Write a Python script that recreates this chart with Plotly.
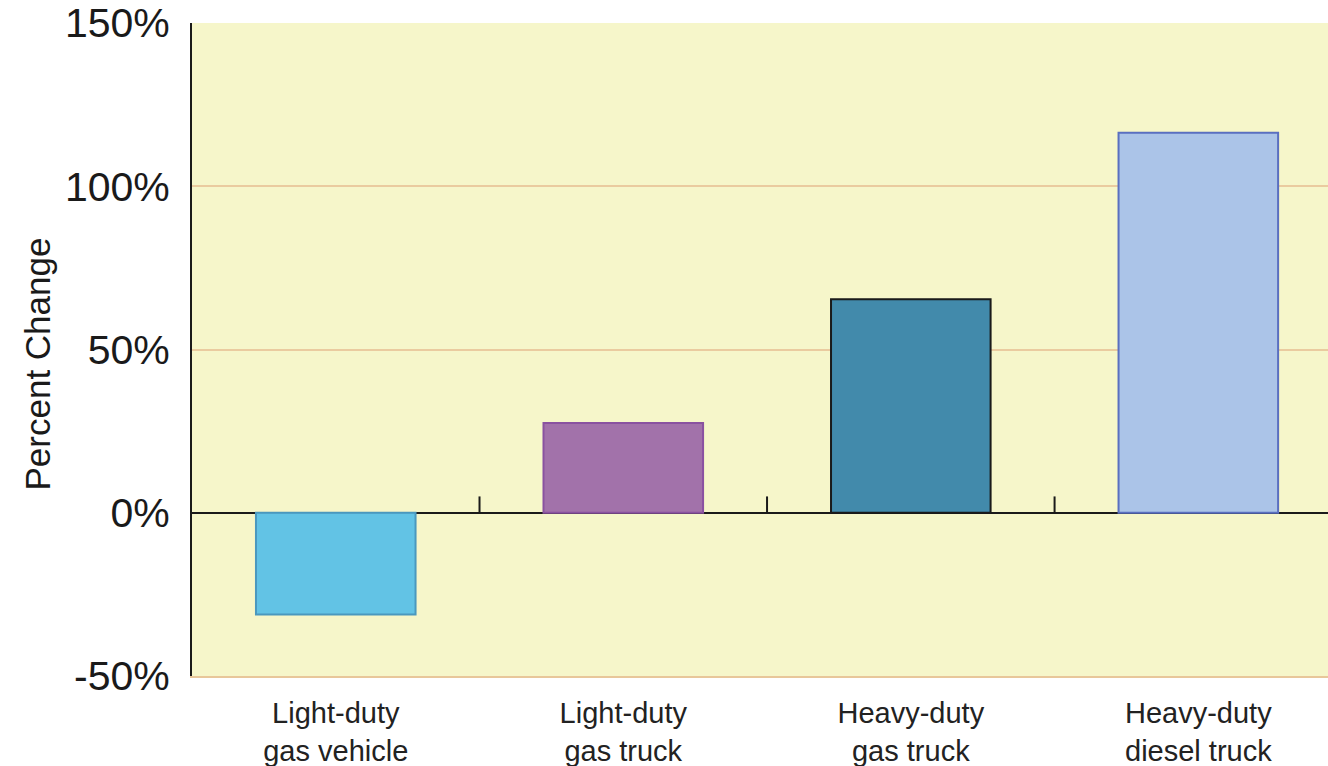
import plotly.graph_objects as go

categories = ["Light-duty<br>gas vehicle", "Light-duty<br>gas truck", "Heavy-duty<br>gas truck", "Heavy-duty<br>diesel truck"]
values = [-31.2, 27.5, 65.4, 116.4]
fill_colors = ["#62C3E5", "#A272AA", "#428AAB", "#ABC4E8"]
edge_colors = ["#4A98BE", "#8A52A0", "#1A1A1A", "#5A6FC0"]
y_ticks = [-50, 0, 50, 100, 150]
y_tick_labels = ["-50%", "0%", "50%", "100%", "150%"]
y_title = "Percent Change"
boundary_x = [0.5, 1.5, 2.5]
boundary_tick_height = 5

fig = go.Figure()
fig.add_trace(go.Bar(
    x=list(range(len(categories))), y=values, width=0.555,
    marker=dict(color=fill_colors, line=dict(color=edge_colors, width=2)),
    hoverinfo="skip",
))

tx, ty = [], []
for b in boundary_x:
    tx += [b, b, None]
    ty += [0, boundary_tick_height, None]
fig.add_trace(go.Scatter(x=tx, y=ty, mode="lines", line=dict(color="#1A1A1A", width=2), hoverinfo="skip"))

fig.update_layout(
    width=1328, height=766,
    margin=dict(l=192, r=0, t=23, b=90, autoexpand=False),
    paper_bgcolor="white", plot_bgcolor="#F6F6CA",
    showlegend=False,
    font=dict(family="Liberation Sans, Arial, sans-serif", color="#1A1A1A"),
)
fig.update_xaxes(
    range=[-0.5, 3.451], automargin=False,
    tickmode="array", tickvals=list(range(len(categories))), ticktext=categories,
    tickfont=dict(size=29, color="#222222"),
    showgrid=False, zeroline=False,
    showline=True, linecolor="#E8C79A", linewidth=2,
    ticks="outside", ticklen=10, tickcolor="rgba(0,0,0,0)",
)
fig.update_yaxes(
    range=[-50, 150], automargin=False,
    tickmode="array", tickvals=y_ticks, ticktext=y_tick_labels,
    tickfont=dict(size=41, color="#1A1A1A"),
    ticklabeloverflow="allow",
    showgrid=True, gridcolor="#EACB9F", gridwidth=2,
    zeroline=True, zerolinecolor="#1A1A1A", zerolinewidth=2,
    showline=True, linecolor="#1A1A1A", linewidth=2,
    ticks="outside", ticklen=12, tickcolor="rgba(0,0,0,0)",
)
fig.add_annotation(
    text=y_title, textangle=-90, showarrow=False,
    xref="paper", yref="paper", x=0, y=0.5,
    xanchor="center", yanchor="middle", xshift=-155, yshift=-15,
    font=dict(size=35, color="#1A1A1A"),
)
fig.write_html("out.html", config={"displayModeBar": False},
               post_script="document.body.style.margin='0';document.body.style.padding='0';")
